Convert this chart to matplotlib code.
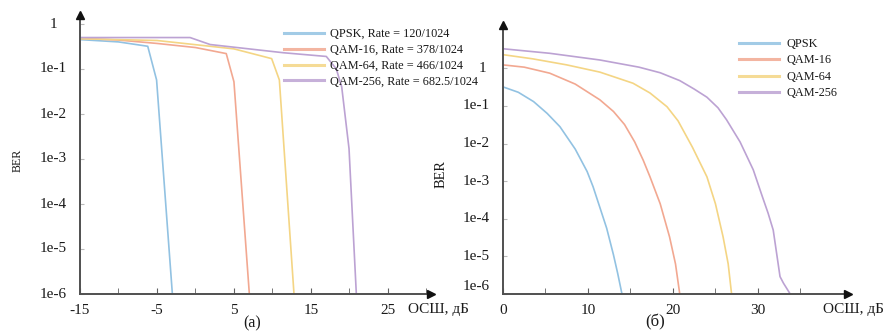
import matplotlib
matplotlib.use("Agg")
import matplotlib.pyplot as plt
from matplotlib.ticker import NullLocator, FixedLocator

plt.rcParams['font.family'] = ['Liberation Serif', 'DejaVu Serif']
plt.rcParams['axes.unicode_minus'] = False

# ---------------- data: panel (a) ----------------
snr_a_qpsk = [-15, -10, -6.2, -5.05, -3.0]
ber_a_qpsk = [0.45, 0.40, 0.32, 0.057, 1e-6]
snr_a_qam16 = [-15, -10, -5, 0, 4.0, 5.0, 7.0]
ber_a_qam16 = [0.48, 0.44, 0.37, 0.30, 0.22, 0.052, 1e-6]
snr_a_qam64 = [-15, -5, 5, 9.9, 10.9, 12.8]
ber_a_qam64 = [0.47, 0.43, 0.28, 0.17, 0.057, 1e-6]
snr_a_qam256 = [-15, -0.7, 1.9, 11.4, 17.0, 18.3, 19.0, 19.95, 20.9]
ber_a_qam256 = [0.5, 0.5, 0.35, 0.23, 0.19, 0.1, 0.04, 0.0017, 1e-6]
labels_a = ["QPSK, Rate = 120/1024", "QAM-16, Rate = 378/1024",
            "QAM-64, Rate = 466/1024", "QAM-256, Rate = 682.5/1024"]
xticks_a = [-15, -5, 5, 15, 25]

# ---------------- data: panel (б) ----------------
snr_b_qpsk = [0, 1.8, 3.6, 5.2, 6.7, 8.5, 9.9, 10.6, 11.4, 12.2, 13.0, 13.5, 14.0]
ber_b_qpsk = [0.32, 0.23, 0.13, 0.063, 0.028, 7.1e-3, 1.8e-3, 7.1e-4, 2.0e-4,
              5.6e-5, 1.1e-5, 3.5e-6, 1e-6]
snr_b_qam16 = [0, 2.5, 5.5, 8.5, 11.4, 13.0, 14.3, 15.5, 16.5, 17.3, 18.5,
               19.6, 20.3, 20.8]
ber_b_qam16 = [1.23, 1.07, 0.74, 0.38, 0.145, 0.071, 0.032, 0.011, 3.6e-3,
               1.3e-3, 2.5e-4, 3.3e-5, 6.3e-6, 1e-6]
snr_b_qam64 = [0, 3.5, 7.5, 11.4, 15.3, 17.3, 19.3, 20.6, 22.3, 24.0, 25.0,
               25.9, 26.5, 26.9]
ber_b_qam64 = [2.3, 1.78, 1.23, 0.79, 0.40, 0.22, 0.095, 0.04, 7.9e-3,
               1.3e-3, 2.5e-4, 3.3e-5, 6.3e-6, 1e-6]
snr_b_qam256 = [0, 5.5, 11.4, 16.0, 18.5, 20.8, 22.5, 24.0, 25.3, 26.3, 27.9,
                29.45, 30.5, 31.2, 31.8, 32.6, 33.0, 33.8]
ber_b_qam256 = [3.3, 2.5, 1.66, 1.07, 0.76, 0.47, 0.28, 0.17, 0.089, 0.043,
                0.011, 2.0e-3, 4.0e-4, 1.4e-4, 5.0e-5, 2.9e-6, 1.95e-6, 1e-6]
labels_b = ["QPSK", "QAM-16", "QAM-64", "QAM-256"]
xticks_b = [0, 10, 20, 30]

ytick_vals = [1, 1e-1, 1e-2, 1e-3, 1e-4, 1e-5, 1e-6]
ytick_labels = ["1", "1e-1", "1e-2", "1e-3", "1e-4", "1e-5", "1e-6"]

colors = ['#92c2e2', '#f2a891', '#f4d584', '#bca2d3']
W, H = 887, 331

fig = plt.figure(figsize=(W / 100, H / 100), dpi=100)
ax1 = fig.add_axes([80 / W, 1 - 294 / H, 351 / W, 279 / H])
ax2 = fig.add_axes([503 / W, 1 - 294 / H, 345 / W, 269 / H])


def style(ax, xlim, ylim, major, minor):
    ax.set_yscale('log')
    ax.set_xlim(*xlim)
    ax.set_ylim(*ylim)
    for s in ('top', 'right'):
        ax.spines[s].set_visible(False)
    for s in ('left', 'bottom'):
        ax.spines[s].set_color('#505050')
        ax.spines[s].set_linewidth(1.4)
        ax.spines[s].set_zorder(5)
    ax.xaxis.set_major_locator(FixedLocator(major))
    ax.xaxis.set_minor_locator(FixedLocator(minor))
    ax.yaxis.set_major_locator(FixedLocator(ytick_vals))
    ax.yaxis.set_minor_locator(NullLocator())
    ax.set_yticklabels([])
    ax.tick_params(axis='x', which='both', direction='in', length=4,
                   color='#606060', labelsize=11, pad=7, labelcolor='#1a1a1a')
    ax.tick_params(axis='y', which='both', direction='in', length=3,
                   color='#bbbbbb')
    ax.plot(1, 0, '>', transform=ax.transAxes, clip_on=False,
            color='#111111', ms=6, zorder=6)
    ax.plot(0, 1, '^', transform=ax.transAxes, clip_on=False,
            color='#111111', ms=6, zorder=6)


style(ax1, (-15, 30.6), (1e-6, 10 ** 0.2), xticks_a, [-10, 0, 10, 20, 30])
style(ax2, (0, 40.6), (1e-6, 10 ** 1.15), xticks_b, [5, 15, 25, 35])

series_a = [(snr_a_qpsk, ber_a_qpsk), (snr_a_qam16, ber_a_qam16),
            (snr_a_qam64, ber_a_qam64), (snr_a_qam256, ber_a_qam256)]
series_b = [(snr_b_qpsk, ber_b_qpsk), (snr_b_qam16, ber_b_qam16),
            (snr_b_qam64, ber_b_qam64), (snr_b_qam256, ber_b_qam256)]

for (x, y), c, lab in zip(series_a, colors, labels_a):
    ax1.plot(x, y, color=c, lw=1.2, label=lab, solid_joinstyle='round')
for (x, y), c, lab in zip(series_b, colors, labels_b):
    ax2.plot(x, y, color=c, lw=1.2, label=lab, solid_joinstyle='round')

# y tick labels
for v, s in zip(ytick_vals, ytick_labels):
    ax1.annotate(s, xy=(0, v), xycoords=('axes fraction', 'data'),
                 xytext=(-27, 0), textcoords='offset pixels',
                 ha='center', va='center', fontsize=11, color='#1a1a1a')
for v, s in zip(ytick_vals, ytick_labels):
    if s == "1":
        off, ha = (-21, 0), 'center'
    elif s == "1e-6":
        off, ha = (-13, 7), 'right'
    else:
        off, ha = (-13, 0), 'right'
    ax2.annotate(s, xy=(0, v), xycoords=('axes fraction', 'data'),
                 xytext=off, textcoords='offset pixels',
                 ha=ha, va='center', fontsize=11, color='#1a1a1a')

# legends
leg1 = ax1.legend(loc='upper left', bbox_to_anchor=(284 / W, 1 - 28 / H),
                  bbox_transform=fig.transFigure, frameon=False,
                  fontsize=8.8, handlelength=3.3, handletextpad=0.45,
                  borderpad=0, borderaxespad=0, labelspacing=0.32)
leg2 = ax2.legend(loc='upper left', bbox_to_anchor=(739 / W, 1 - 38 / H),
                  bbox_transform=fig.transFigure, frameon=False,
                  fontsize=8.8, handlelength=3.3, handletextpad=0.55,
                  borderpad=0, borderaxespad=0, labelspacing=0.36)
for leg in (leg1, leg2):
    for ln in leg.get_lines():
        ln.set_linewidth(2.2)
        ln.set_alpha(0.85)
    for t in leg.get_texts():
        t.set_color('#1a1a1a')

# axis labels
fig.text(18 / W, 1 - 160 / H, "BER", rotation=90, ha='center', va='center',
         fontsize=8.6, color='#1a1a1a')
fig.text(441 / W, 1 - 174 / H, "BER", rotation=90, ha='center', va='center',
         fontsize=10.4, color='#1a1a1a')
fig.text(408 / W, 1 - 310 / H, "ОСШ, дБ", ha='left', va='center',
         fontsize=11, color='#1a1a1a')
fig.text(823 / W, 1 - 309 / H, "ОСШ, дБ", ha='left', va='center',
         fontsize=11, color='#1a1a1a')
fig.text(252 / W, 1 - 323 / H, "(a)", ha='center', va='center',
         fontsize=11.5, color='#1a1a1a')
fig.text(655 / W, 1 - 322 / H, "(б)", ha='center', va='center',
         fontsize=12, color='#1a1a1a')

fig.savefig("out.png", dpi=100)
